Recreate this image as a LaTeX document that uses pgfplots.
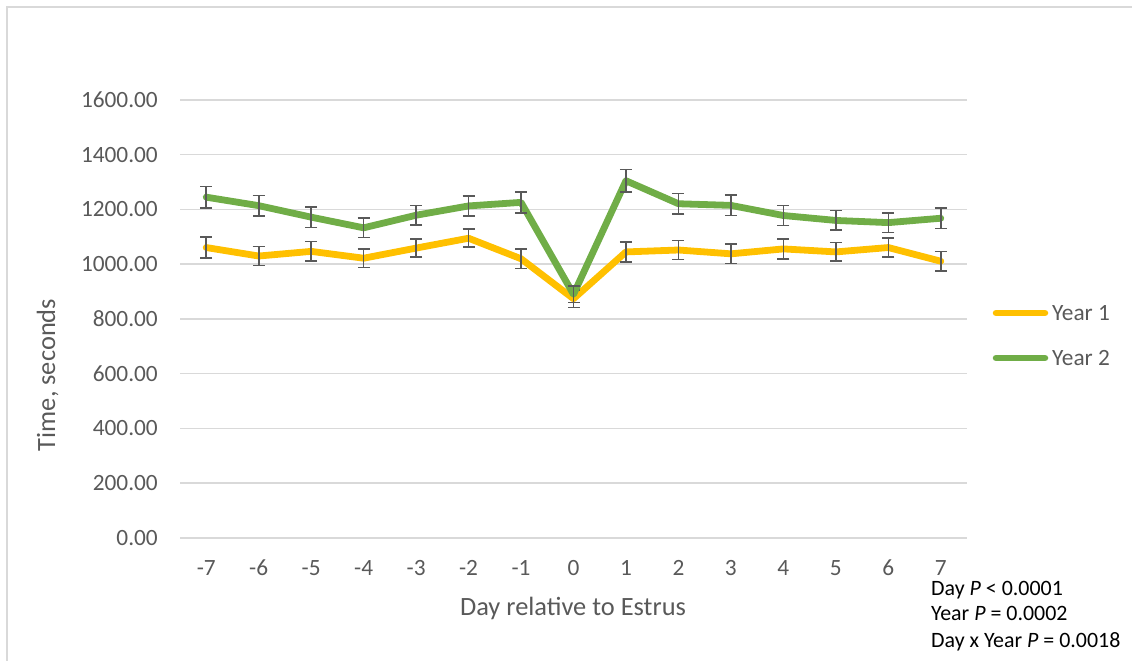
\documentclass[border=0pt]{standalone}
\usepackage{pgfplots}
\pgfplotsset{compat=1.18}
\usepackage{pgfplotstable}
\usepackage{fontspec}
\setmainfont{Carlito}
\definecolor{txt}{HTML}{595959}
\definecolor{grd}{HTML}{D9D9D9}
\definecolor{yr1}{HTML}{FFC000}
\definecolor{yr2}{HTML}{70AD47}
\definecolor{eb}{HTML}{595959}

\pgfplotstableread{
x  y      e
-7 1061   38
-6 1030   35
-5 1047   36
-4 1022   34
-3 1059   33
-2 1095   33
-1 1020   36
0  874    32
1  1045   36
2  1052   35
3  1038   35
4  1056   36
5  1045   34
6  1061   35
7  1011   35
}\yearone

\pgfplotstableread{
x  y      e
-7 1245   39
-6 1214   37
-5 1172   38
-4 1133   35
-3 1179   35
-2 1213   36
-1 1226   38
0  890    30
1  1305   41
2  1221   37
3  1215   37
4  1178   36
5  1160   36
6  1152   36
7  1168   38
}\yeartwo

\begin{document}
\begin{tikzpicture}[x=1bp,y=1bp]
\path[use as bounding box] (0,0) rectangle (1132,661);
\draw[grd, line width=1.5bp] (7,0) -- (7,654) -- (1132,654);
\begin{axis}[
  at={(180bp,123bp)}, anchor=south west,
  width=787bp, height=438bp, scale only axis,
  xmin=-7.5, xmax=7.5, ymin=0, ymax=1600,
  xtick={-7,-6,-5,-4,-3,-2,-1,0,1,2,3,4,5,6,7},
  xticklabels={-7,-6,-5,-4,-3,-2,-1,0,1,2,3,4,5,6,7},
  ytick={0,200,400,600,800,1000,1200,1400,1600},
  yticklabels={0.00,200.00,400.00,600.00,800.00,1000.00,1200.00,1400.00,1600.00},
  axis line style={draw=none},
  major tick length=0pt,
  ymajorgrids, grid style={grd, line width=1.5bp},
  tick label style={font=\fontsize{23.4}{28}\selectfont, text=txt},
  xticklabel style={anchor=center, inner sep=0pt, yshift=-30bp},
  yticklabel style={anchor=east, inner sep=0pt, xshift=-22bp},
  clip=false,
]
\addplot[yr1, line width=6.8bp, line join=round, line cap=round,
  error bars/.cd, y dir=both, y explicit,
  error bar style={eb, line width=1.6bp, line cap=butt},
  error mark options={rotate=90, eb, line width=1.6bp, mark size=6bp}]
  table[x=x, y=y, y error=e] {\yearone};
\addplot[yr2, line width=6.8bp, line join=round, line cap=round,
  error bars/.cd, y dir=both, y explicit,
  error bar style={eb, line width=1.6bp, line cap=butt},
  error mark options={rotate=90, eb, line width=1.6bp, mark size=6bp}]
  table[x=x, y=y, y error=e] {\yeartwo};
\end{axis}
% legend
\draw[yr1, line width=6.5bp, line cap=round] (996,348) -- (1045,348);
\node[anchor=west, inner sep=0pt, text=txt, font=\fontsize{23.4}{28}\selectfont] at (1052,348) {Year 1};
\draw[yr2, line width=6.5bp, line cap=round] (996,303) -- (1045,303);
\node[anchor=west, inner sep=0pt, text=txt, font=\fontsize{23.4}{28}\selectfont] at (1052,303) {Year 2};
% axis titles
\node[anchor=base, inner sep=0pt, text=txt, font=\fontsize{26.5}{32}\selectfont] at (573,45) {Day relative to Estrus};
\node[anchor=base, rotate=90, inner sep=0pt, text=txt, font=\fontsize{26.5}{32}\selectfont] at (55,286) {Time, seconds};
% statistics
\node[anchor=base west, inner sep=0pt, font=\fontsize{22}{26}\selectfont] at (931,65) {Day \textit{P} < 0.0001};
\node[anchor=base west, inner sep=0pt, font=\fontsize{22}{26}\selectfont] at (931,40) {Year \textit{P} = 0.0002};
\node[anchor=base west, inner sep=0pt, font=\fontsize{22}{26}\selectfont] at (931,13.5) {Day x Year \textit{P} = 0.0018};
\end{tikzpicture}
\end{document}
